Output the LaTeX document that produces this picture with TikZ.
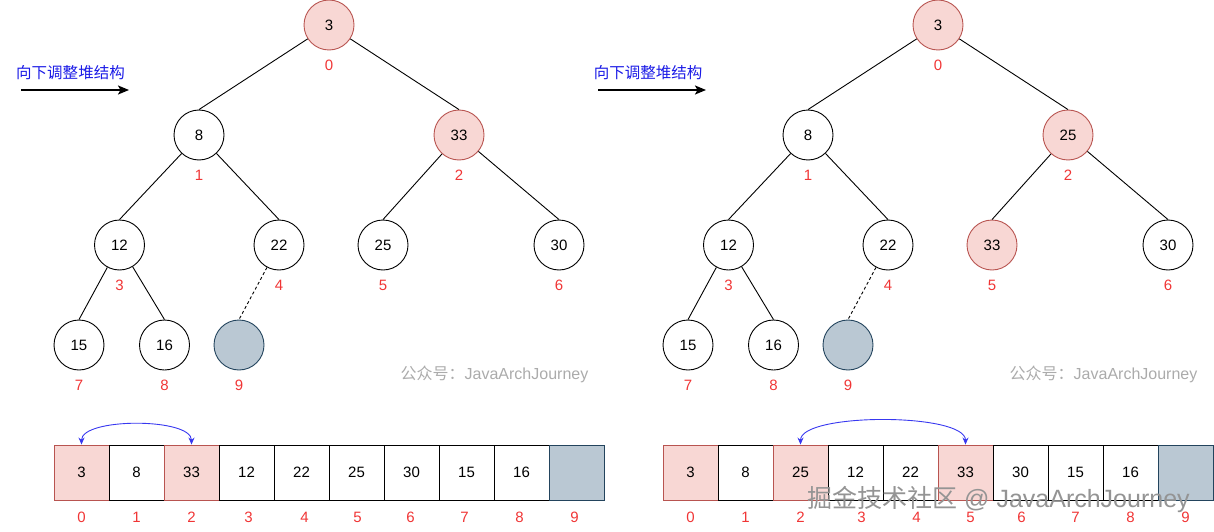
\documentclass[tikz,border=0pt]{standalone}
\usepackage{fontspec}
\setmainfont{Liberation Sans}
\newfontfamily\cjk{Noto Sans CJK SC}
\usetikzlibrary{arrows.meta}
\definecolor{pinkf}{HTML}{F8D7D4}
\definecolor{pinkd}{HTML}{B85450}
\definecolor{greyf}{HTML}{BAC8D3}
\definecolor{greyd}{HTML}{23445D}
\definecolor{lblred}{HTML}{F03535}
\definecolor{tblue}{HTML}{1A1AE6}
\definecolor{ablue}{HTML}{3838F0}
\definecolor{wmgray}{HTML}{ABABAB}
\begin{document}
\begin{tikzpicture}[x=1pt,y=-1pt,
  every node/.style={font=\fontsize{15}{18}\selectfont, inner sep=0pt},
  hnode/.style={circle, draw=black, fill=white, minimum size=50pt, line width=0.9pt},
  hot/.style={fill=pinkf, draw=pinkd},
  hole/.style={fill=greyf, draw=greyd},
  plainc/.style={},
  idx/.style={text=lblred},
  treeline/.style={draw=black, line width=0.9pt},
  holeline/.style={draw=black, line width=0.9pt, dash pattern=on 3pt off 2.5pt},
  cell/.style={rectangle, draw=black, fill=white, minimum width=55pt, minimum height=55pt, line width=0.9pt},
  swaparrow/.style={draw=ablue, line width=0.9pt, {Stealth[length=7pt,width=6pt]}-{Stealth[length=7pt,width=6pt]}},
  bigarrow/.style={draw=black, line width=1.8pt, -{Stealth[length=11pt,width=9pt,inset=2.5pt]}},
  bluetext/.style={text=tblue, font=\cjk\fontsize{15.5}{18}\selectfont},
  wmsmall/.style={text=wmgray, font=\fontsize{16}{19}\selectfont},
  wmbig/.style={text=black!42, font=\fontsize{25}{30}\selectfont}
]
\useasboundingbox (0,0) rectangle (1214,532);

% ---------------- left tree ----------------
\node[bluetext] (Lt) at (70.5,73) {向下调整堆结构};
\coordinate (Las) at (21,90);
\coordinate (Lae) at (129,90);
\draw[bigarrow] (Las) -- (Lae);

\node[hnode,hot] (La) at (329,25) {3};
\node[hnode] (Lb) at (199,135) {8};
\node[hnode,hot] (Lc) at (459,135) {33};
\node[hnode] (Ld) at (119.5,245) {12};
\node[hnode] (Le) at (279,245) {22};
\node[hnode] (Lf) at (383,245) {25};
\node[hnode] (Lg) at (559,245) {30};
\node[hnode] (Lh) at (79,345) {15};
\node[hnode] (Li) at (164.5,345) {16};
\node[hnode,hole] (Lj) at (239,345) {};

\node[idx] (Lai) at (329,65) {0};
\node[idx] (Lbi) at (199,175) {1};
\node[idx] (Lci) at (459,175) {2};
\node[idx] (Ldi) at (119.5,285) {3};
\node[idx] (Lei) at (279,285) {4};
\node[idx] (Lfi) at (383,285) {5};
\node[idx] (Lgi) at (559,285) {6};
\node[idx] (Lhi) at (79,385) {7};
\node[idx] (Lii) at (164.5,385) {8};
\node[idx] (Lji) at (239,385) {9};

\draw[treeline] (La) -- (Lb.north);
\draw[treeline] (La) -- (Lc.north);
\draw[treeline] (Lb) -- (Ld.north);
\draw[treeline] (Lb) -- (Le.north);
\draw[treeline] (Lc) -- (Lf.north);
\draw[treeline] (Lc) -- (Lg.north);
\draw[treeline] (Ld) -- (Lh.north);
\draw[treeline] (Ld) -- (Li.north);
\draw[holeline] (Le) -- (Lj.north);

\node[wmsmall] (Lw) at (494.5,374) {{\cjk 公众号：}JavaArchJourney};

% left array
\foreach \v/\s [count=\i from 0] in {3/hot,8/plainc,33/hot,12/plainc,22/plainc,25/plainc,30/plainc,15/plainc,16/plainc,/hole}
  \node[cell,\s] (LA\i) at ({81.5+55*\i},472.5) {\v};
\foreach \o [count=\i from 0] in {0,0,0,2,3,1,-1,-2,-2,-2}
  \node[idx] (LI\i) at ({81.5+55*\i+\o},517) {\i};
\draw[swaparrow] (LA0.north) .. controls +(0,-27) and +(0,-27) .. (LA2.north);

% ---------------- right tree ----------------
\node[bluetext] (Rt) at (648,73) {向下调整堆结构};
\coordinate (Ras) at (598,90);
\coordinate (Rae) at (706,90);
\draw[bigarrow] (Ras) -- (Rae);

\node[hnode,hot] (Ra) at (938,25) {3};
\node[hnode] (Rb) at (808,135) {8};
\node[hnode,hot] (Rc) at (1068,135) {25};
\node[hnode] (Rd) at (728.5,245) {12};
\node[hnode] (Re) at (888,245) {22};
\node[hnode,hot] (Rf) at (992,245) {33};
\node[hnode] (Rg) at (1168,245) {30};
\node[hnode] (Rh) at (688,345) {15};
\node[hnode] (Ri) at (773.5,345) {16};
\node[hnode,hole] (Rj) at (848,345) {};

\node[idx] (Rai) at (938,65) {0};
\node[idx] (Rbi) at (808,175) {1};
\node[idx] (Rci) at (1068,175) {2};
\node[idx] (Rdi) at (728.5,285) {3};
\node[idx] (Rei) at (888,285) {4};
\node[idx] (Rfi) at (992,285) {5};
\node[idx] (Rgi) at (1168,285) {6};
\node[idx] (Rhi) at (688,385) {7};
\node[idx] (Rii) at (773.5,385) {8};
\node[idx] (Rji) at (848,385) {9};

\draw[treeline] (Ra) -- (Rb.north);
\draw[treeline] (Ra) -- (Rc.north);
\draw[treeline] (Rb) -- (Rd.north);
\draw[treeline] (Rb) -- (Re.north);
\draw[treeline] (Rc) -- (Rf.north);
\draw[treeline] (Rc) -- (Rg.north);
\draw[treeline] (Rd) -- (Rh.north);
\draw[treeline] (Rd) -- (Ri.north);
\draw[holeline] (Re) -- (Rj.north);

\node[wmsmall] (Rw) at (1103.5,374) {{\cjk 公众号：}JavaArchJourney};

% right array
\foreach \v/\s [count=\i from 0] in {3/hot,8/plainc,25/hot,12/plainc,22/plainc,33/hot,30/plainc,15/plainc,16/plainc,/hole}
  \node[cell,\s] (RA\i) at ({690.5+55*\i},472.5) {\v};
\foreach \o [count=\i from 0] in {0,0,0,6,6,5,1,0,0,0}
  \node[idx] (RI\i) at ({690.5+55*\i+\o},517) {\i};
\draw[swaparrow] (RA2.north) .. controls +(0,-32) and +(0,-32) .. (RA5.north);

% site watermark
\node[wmbig] (wm) at (998.5,499) {{\cjk 掘金技术社区} @ JavaArchJourney};
\end{tikzpicture}
\end{document}
